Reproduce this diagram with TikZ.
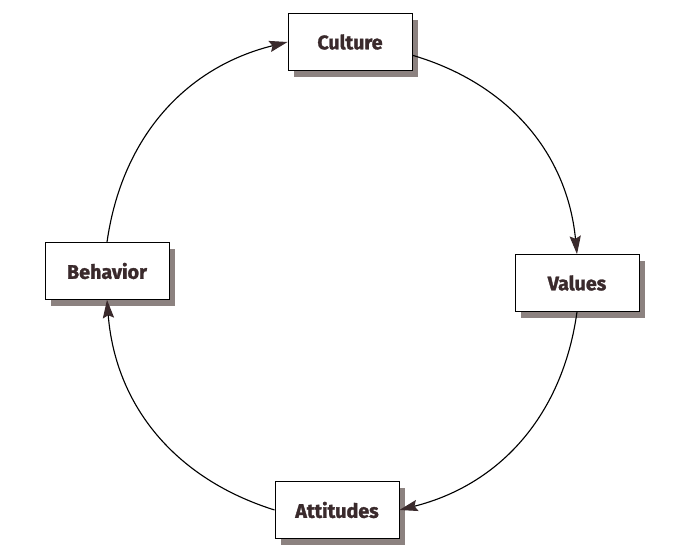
\documentclass[tikz,border=0pt]{standalone}
\usepackage{fontspec}
\newfontfamily\boitefont{Fira Sans}[BoldFeatures={FakeBold=1.5}]
\usepackage{tikz}
\usetikzlibrary{arrows.meta,shapes,positioning,shadows}

\definecolor{ombre}{RGB}{140,130,128}
\definecolor{encre}{RGB}{58,42,44}

\begin{document}
\begin{tikzpicture}[x=0.025cm,y=0.025cm]
%boite : cadre blanc avec une ombre grise decalee vers le bas a droite
\tikzset{boite/.style={draw=black,line width=0.6pt,fill=white,minimum width=3.1cm,minimum height=1.42cm,font=\boitefont\bfseries\fontsize{14}{16}\selectfont,text=encre,drop shadow={shadow xshift=0.16cm,shadow yshift=-0.16cm,fill=ombre,opacity=1}}}
\tikzset{fleche/.style={line width=0.8pt,-{Stealth[length=13pt,width=8pt,inset=2pt,color=encre]},bend left=34}} %arc du cycle
\useasboundingbox (0,0) rectangle (693,548);
\node[boite] (culture) at (350,506) {Culture};
\node[boite] (values) at (577,265) {Values};
\node[boite] (attitudes) at (337,38) {Attitudes};
\node[boite] (behavior) at (107,277) {Behavior};
\draw[fleche] (behavior.north) to (culture.west);
\draw[fleche] (culture.-12) to (values.north);
\draw[fleche] (values.south) to (attitudes.east);
\draw[fleche] (attitudes.west) to (behavior.south);
\end{tikzpicture}
\end{document}
